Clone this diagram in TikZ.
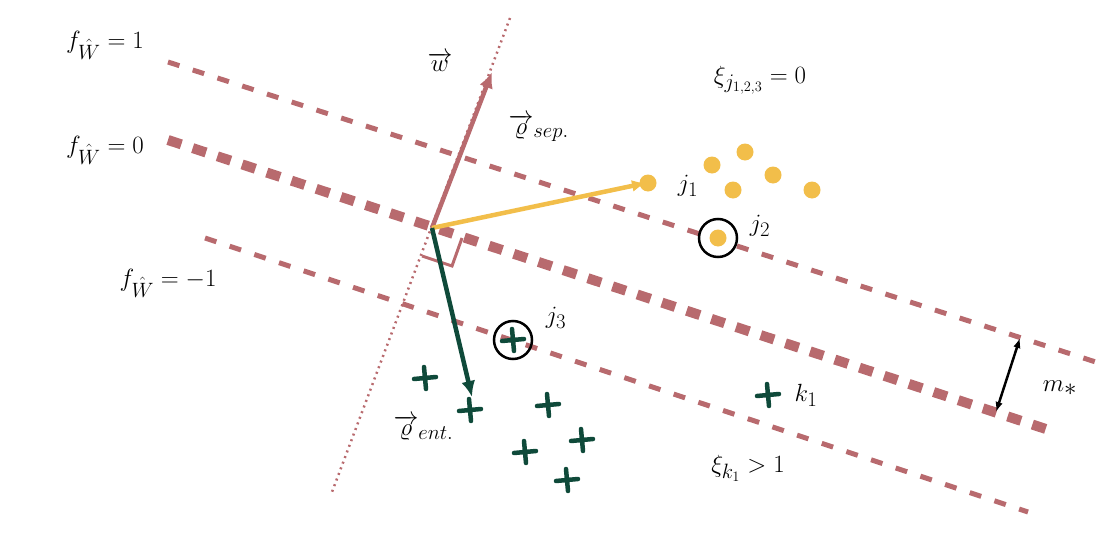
\documentclass[tikz,border=0pt]{standalone}
\usepackage{amsmath}
\usetikzlibrary{arrows.meta,calc}
\begin{document}
\begin{tikzpicture}[x=1pt,y=-1pt,
 rose/.style={draw={rgb,255:red,184;green,106;blue,110}},
 thinl/.style={rose,line width=5pt,dash pattern=on 12pt off 14pt},
 thickl/.style={rose,line width=10pt,dash pattern=on 14pt off 12pt},
 ydot/.style={circle,fill={rgb,255:red,242;green,190;blue,74},inner sep=0,minimum size=17pt},
 gplus/.style={inner sep=0,minimum size=1pt},
 lab/.style={font=\fontsize{30}{30}\selectfont},
 ring/.style={draw=black,line width=2.5pt,circle,minimum size=38pt,inner sep=0}]
\useasboundingbox (0,0) rectangle (1120,541);
\definecolor{ros}{RGB}{184,106,110}\definecolor{yel}{RGB}{242,190,74}\definecolor{grn}{RGB}{15,74,58}
\coordinate (a1) at (168,62); \coordinate (b1) at (1105,365);
\coordinate (a0) at (168,140); \coordinate (b0) at (1055,432);
\coordinate (am) at (205,238); \coordinate (bm) at (1028,512);
\coordinate (pa) at (510,18); \coordinate (pb) at (332,492);
\coordinate (o) at (432,228);
\coordinate (w) at (492,72); \coordinate (s) at (646,183); \coordinate (e) at (472,397);
\draw[thinl] (a1)--(b1);
\draw[thickl] (a0)--(b0);
\draw[thinl] (am)--(bm);
\draw[ros,line width=2.5pt,dash pattern=on 2pt off 4pt] (pa)--(pb);
\draw[ros,line width=3pt] (422,256)--(452,266)--(462,238);
\draw[ros,line width=4.5pt,-{Latex[length=16pt,width=14pt]}] (o)--(w);
\draw[yel,line width=4.5pt,-{Latex[length=14pt,width=12pt]}] (o)--(s);
\draw[grn,line width=4.5pt,-{Latex[length=16pt,width=14pt]}] (o)--(e);
\foreach \p [count=\i] in {(648,183),(712,165),(745,152),(733,190),(773,175),(812,190),(718,238)}
 \node[ydot] (y\i) at \p {};
\node[ring] (r2) at (y7) {};
\foreach \p [count=\i] in {(425,378),(513,340),(470,410),(548,405),(582,440),(525,452),(567,480),(768,395)}
 {\node[gplus] (g\i) at \p {};
  \draw[grn,line width=4.5pt,line cap=round] ($(g\i)+(-11,1)$)--($(g\i)+(11,-1)$) ($(g\i)+(-1,-11)$)--($(g\i)+(1,11)$);}
\node[ring] (r3) at (g2) {};
\node[lab] (l1) at (105,45) {$f_{\hat W}=1$};
\node[lab] (l0) at (105,150) {$f_{\hat W}=0$};
\node[lab] (lm) at (168,283) {$f_{\hat W}=-1$};
\node[font=\fontsize{42}{42}\selectfont] (lw) at (440,62) {$\overrightarrow{w}$};
\node[lab,anchor=west] (ls) at (505,128) {$\overrightarrow{\varrho}_{sep.}$};
\node[lab] (lx) at (760,80) {$\xi_{j_{1,2,3}}=0$};
\node[lab] (j1) at (688,186) {$j_1$};
\node[lab] (j2) at (760,226) {$j_2$};
\node[lab] (j3) at (556,318) {$j_3$};
\node[lab] (k1) at (806,395) {$k_1$};
\node[lab] (lk) at (748,468) {$\xi_{k_1}>1$};
\node[lab,anchor=west] (le) at (390,428) {$\overrightarrow{\varrho}_{ent.}$};
\node[font=\fontsize{40}{40}\selectfont] (lm2) at (1060,388) {$m_*$};
\coordinate (ma) at (1020,338); \coordinate (mb) at (996,412);
\draw[black,line width=2.5pt,{Latex[length=10pt]}-{Latex[length=10pt]}] (ma)--(mb);
\end{tikzpicture}
\end{document}
